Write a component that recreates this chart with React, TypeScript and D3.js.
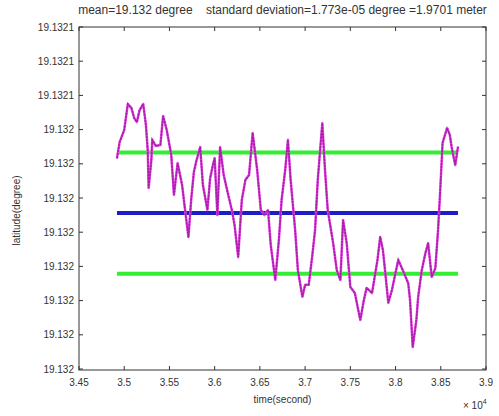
import React from "react";
import * as d3 from "d3";

// time (seconds)
const times = [
  34920, 34950, 35000, 35040, 35080, 35110, 35140, 35170, 35210, 35240,
  35260, 35270, 35300, 35310, 35350, 35400, 35430, 35470, 35520, 35550,
  35590, 35640, 35670, 35710, 35740, 35770, 35800, 35840, 35870, 35920,
  35950, 35980, 36000, 36030, 36060, 36100, 36150, 36190, 36220, 36260,
  36300, 36340, 36380, 36420, 36470, 36510, 36550, 36590, 36620, 36670,
  36710, 36740, 36780, 36810, 36840, 36890, 36920, 36970, 37000, 37040,
  37080, 37110, 37140, 37190, 37220, 37250, 37310, 37350, 37390, 37420,
  37460, 37500, 37550, 37610, 37650, 37680, 37740, 37800, 37830, 37860,
  37880, 37920, 37960, 37990, 38030, 38080, 38140, 38160, 38190, 38230,
  38250, 38290, 38330, 38360, 38400, 38440, 38470, 38490, 38520, 38570,
  38600, 38620, 38660, 38690,
];

// latitude (degree)
const latitudes = [
  19.1320317, 19.1320364, 19.1320399, 19.1320475, 19.1320463, 19.1320434, 19.1320422, 19.1320457, 19.1320475, 19.1320413,
  19.132034, 19.1320229, 19.1320311, 19.132037, 19.1320352, 19.1320355, 19.132044, 19.1320399, 19.1320326, 19.1320209,
  19.1320302, 19.1320238, 19.1320171, 19.1320086, 19.1320194, 19.1320276, 19.1320311, 19.1320349, 19.1320238, 19.1320165,
  19.1320258, 19.1320296, 19.1320317, 19.132015, 19.1320349, 19.1320267, 19.1320209, 19.1320165, 19.1320121, 19.1320027,
  19.1320194, 19.1320253, 19.1320267, 19.132039, 19.1320282, 19.1320165, 19.132015, 19.1320165, 19.1320063, 19.131996,
  19.1320077, 19.1320194, 19.1320282, 19.132037, 19.1320253, 19.1320106, 19.1319989, 19.1319911, 19.1319946, 19.1319946,
  19.1320033, 19.1320106, 19.1320253, 19.1320419, 19.1320282, 19.1320165, 19.1320068, 19.1319989, 19.131996, 19.1320136,
  19.1320068, 19.131994, 19.1319922, 19.1319843, 19.1319902, 19.1319937, 19.1319922, 19.1320019, 19.1320086, 19.1320048,
  19.1319998, 19.1319893, 19.1319931, 19.1319969, 19.1320019, 19.1319989, 19.1319951, 19.1319902, 19.1319764, 19.1319843,
  19.1319911, 19.1319989, 19.1320039, 19.1320068, 19.1319969, 19.1319995, 19.1320106, 19.1320203, 19.1320361, 19.1320405,
  19.1320384, 19.1320349, 19.1320296, 19.1320349,
];

const meanLat = 19.1320156;
const stdLat = 1.773e-5;

const xTickValues = [34500, 35000, 35500, 36000, 36500, 37000, 37500, 38000, 38500, 39000];
const xTickLabels = ["3.45", "3.5", "3.55", "3.6", "3.65", "3.7", "3.75", "3.8", "3.85", "3.9"];
const yTickValues = [
  19.13197, 19.13198, 19.13199, 19.132, 19.13201, 19.13202, 19.13203, 19.13204, 19.13205, 19.13206, 19.13207,
];
const yTickLabels = [
  "19.132", "19.132", "19.132", "19.132", "19.132", "19.132", "19.132", "19.132", "19.1321", "19.1321", "19.1321",
];

const titleText = "mean=19.132 degree    standard deviation=1.773e-05 degree =1.9701 meter";

export default function App() {
  const W = 499, H = 416;
  const left = 79, right = 486, top = 27, bottom = 370;
  const x = d3.scaleLinear().domain([34500, 39000]).range([left, right]);
  const y = d3.scaleLinear().domain([19.13197, 19.13207]).range([bottom - 1, top]);
  const pts: [number, number][] = times.map((t, i) => [t, latitudes[i]]);
  const line = d3.line<[number, number]>().x(d => x(d[0])).y(d => y(d[1]));
  const path = line(pts) || "";
  const t0 = times[0], t1 = times[times.length - 1];
  const font = "'Liberation Sans', Arial, sans-serif";
  const txt = "#333";
  const tick = 4;

  return (
    <svg width={W} height={H} style={{ position: "absolute", left: 0, top: 0, background: "#fff" }} fontFamily={font}>
      <rect x={0} y={0} width={W} height={H} fill="#fff" />
      <text x={(left + right) / 2} y={14} textAnchor="middle" fontSize={12} fill={txt}
        style={{ whiteSpace: "pre" }}>{titleText}</text>

      {/* reference lines */}
      <line x1={x(t0)} x2={x(t1)} y1={y(meanLat + stdLat)} y2={y(meanLat + stdLat)} stroke="#33ee33" strokeWidth={4} />
      <line x1={x(t0)} x2={x(t1)} y1={y(meanLat - stdLat)} y2={y(meanLat - stdLat)} stroke="#33ee33" strokeWidth={4} />
      <line x1={x(t0)} x2={x(t1)} y1={y(meanLat)} y2={y(meanLat)} stroke="#1c1cc8" strokeWidth={4} />

      {/* data */}
      <path d={path} fill="none" stroke="#f050f0" strokeWidth={2.5} strokeLinejoin="round" />
      <path d={path} fill="none" stroke="#a820a8" strokeWidth={1.8} strokeDasharray="1.2,2" strokeLinecap="round" />

      {/* box */}
      <rect x={left} y={top} width={right - left} height={bottom - top} fill="none" stroke="#333" strokeWidth={1} />

      {xTickValues.map((v, i) => (
        <g key={"x" + i}>
          <line x1={x(v)} x2={x(v)} y1={bottom} y2={bottom - tick} stroke="#333" />
          <line x1={x(v)} x2={x(v)} y1={top} y2={top + tick} stroke="#333" />
          <text x={x(v)} y={386} textAnchor="middle" fontSize={10} fill={txt}>{xTickLabels[i]}</text>
        </g>
      ))}
      {yTickValues.map((v, i) => (
        <g key={"y" + i}>
          <line x1={left} x2={left + tick} y1={y(v)} y2={y(v)} stroke="#333" />
          <line x1={right} x2={right - tick} y1={y(v)} y2={y(v)} stroke="#333" />
          <text x={74} y={y(v) + 3.5} textAnchor="end" fontSize={10} fill={txt}>{yTickLabels[i]}</text>
        </g>
      ))}

      <text x={(left + right) / 2} y={403} textAnchor="middle" fontSize={10} fill={txt}>time(second)</text>
      <text x={463} y={409} fontSize={10} fill={txt}>× 10<tspan dy={-5} fontSize={7}>4</tspan></text>
      <text transform={`translate(20,${(top + bottom) / 2 + 12}) rotate(-90)`} textAnchor="middle" fontSize={10} fill={txt}>latitude(degree)</text>
    </svg>
  );
}
